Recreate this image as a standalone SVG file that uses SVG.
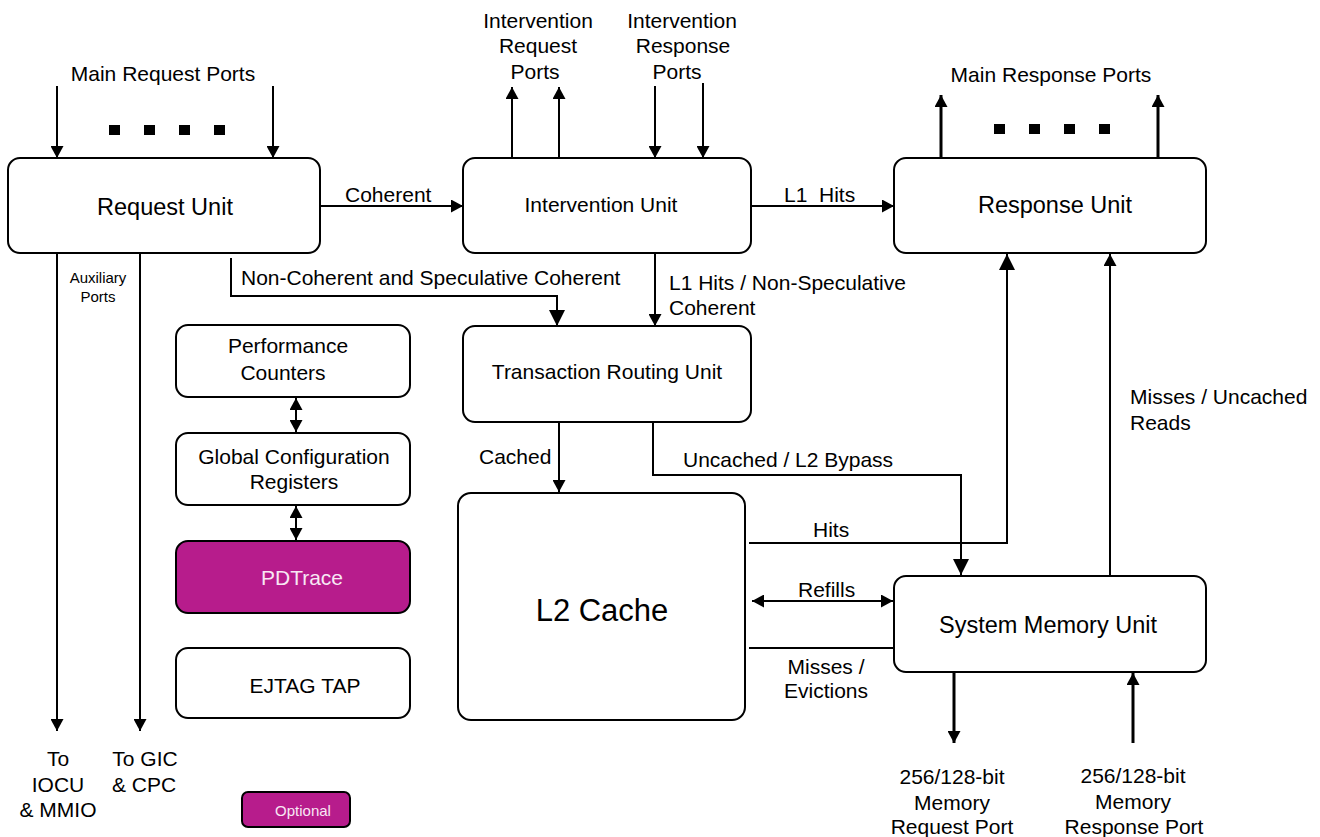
<svg xmlns="http://www.w3.org/2000/svg" width="1320" height="837" viewBox="0 0 1320 837">
<style>
text{font-family:"Liberation Sans",Arial,sans-serif;fill:#000}
.box{fill:#fff;stroke:#000;stroke-width:2}
.opt{fill:#B71C8C;stroke:#000;stroke-width:2}
.big{font-size:23.5px;text-anchor:middle}
.mid{font-size:21px;text-anchor:middle}
.lbl{font-size:21px}
.lc{font-size:21px;text-anchor:middle}
.sm{font-size:15px;text-anchor:middle}
.wt{fill:#F8E8F4}
.c{fill:none;stroke:#000;stroke-width:2}
.t{fill:none;stroke:#000;stroke-width:3}
</style>
<defs>
<marker id="a" viewBox="0 0 12 13" markerWidth="12" markerHeight="13" refX="12" refY="6.5" orient="auto-start-reverse" markerUnits="userSpaceOnUse"><path d="M0,0L12,6.5L0,13z" fill="#000"/></marker>
<marker id="b" viewBox="0 0 16 16" markerWidth="16" markerHeight="16" refX="16" refY="8" orient="auto-start-reverse" markerUnits="userSpaceOnUse"><path d="M0,0L16,8L0,16z" fill="#000"/></marker>
</defs>

<g id="connectors">
<line class="c" x1="57" y1="86" x2="57" y2="158" marker-end="url(#a)"/>
<line class="c" x1="273" y1="86" x2="273" y2="158" marker-end="url(#a)"/>
<line class="c" x1="320" y1="206" x2="463" y2="206" marker-end="url(#a)"/>
<line class="c" x1="512" y1="158" x2="512" y2="87" marker-end="url(#a)"/>
<line class="c" x1="559" y1="158" x2="559" y2="87" marker-end="url(#a)"/>
<line class="c" x1="655" y1="86" x2="655" y2="158" marker-end="url(#a)"/>
<line class="c" x1="703" y1="83" x2="703" y2="158" marker-end="url(#a)"/>
<line class="c" x1="751" y1="206" x2="894" y2="206" marker-end="url(#a)"/>
<line class="t" x1="941" y1="158" x2="941" y2="95" marker-end="url(#a)"/>
<line class="t" x1="1158" y1="158" x2="1158" y2="95" marker-end="url(#a)"/>
<line class="c" x1="57" y1="253" x2="57" y2="731" marker-end="url(#a)"/>
<line class="c" x1="140" y1="253" x2="140" y2="731" marker-end="url(#a)"/>
<polyline class="c" points="231,258 231,296 557,296 557,326" marker-end="url(#b)"/>
<line class="c" x1="655" y1="253" x2="655" y2="326" marker-end="url(#a)"/>
<line class="c" x1="559" y1="422" x2="559" y2="492" marker-end="url(#a)"/>
<polyline class="c" points="653,422 653,475 961,475 961,575" marker-end="url(#b)"/>
<polyline class="c" points="749,543 1007,543 1007,254" marker-end="url(#b)"/>
<line class="c" x1="1110" y1="576" x2="1110" y2="254" marker-end="url(#a)"/>
<line class="c" x1="752" y1="601" x2="893" y2="601" marker-start="url(#a)" marker-end="url(#a)"/>
<line class="c" x1="749" y1="648" x2="894" y2="648"/>
<line class="t" x1="954" y1="672" x2="954" y2="743" marker-end="url(#a)"/>
<line class="t" x1="1133" y1="743" x2="1133" y2="673" marker-end="url(#a)"/>
<line class="c" x1="296" y1="398" x2="296" y2="432" marker-start="url(#a)" marker-end="url(#a)"/>
<line class="c" x1="296" y1="506" x2="296" y2="540" marker-start="url(#a)" marker-end="url(#a)"/>
</g>

<g id="dots" fill="#000">
<rect x="109" y="125" width="11" height="10"/>
<rect x="144" y="125" width="11" height="10"/>
<rect x="179" y="125" width="11" height="10"/>
<rect x="214" y="125" width="11" height="10"/>
<rect x="994" y="124" width="11" height="10"/>
<rect x="1029" y="124" width="11" height="10"/>
<rect x="1064" y="124" width="11" height="10"/>
<rect x="1099" y="124" width="11" height="10"/>
</g>

<g id="request-unit">
<rect class="box" x="8" y="158" width="312" height="95" rx="12"/>
<text class="big" x="165" y="215">Request Unit</text>
</g>
<g id="intervention-unit">
<rect class="box" x="463" y="158" width="288" height="95" rx="12"/>
<text class="mid" x="601" y="212">Intervention Unit</text>
</g>
<g id="response-unit">
<rect class="box" x="894" y="158" width="312" height="95" rx="12"/>
<text class="big" x="1055" y="213">Response Unit</text>
</g>
<g id="transaction-routing-unit">
<rect class="box" x="463" y="326" width="288" height="96" rx="12"/>
<text class="mid" x="607" y="379">Transaction Routing Unit</text>
</g>
<g id="l2-cache">
<rect class="box" x="458" y="493" width="287" height="227" rx="13"/>
<text x="602" y="621" style="font-size:31px;text-anchor:middle">L2 Cache</text>
</g>
<g id="system-memory-unit">
<rect class="box" x="894" y="576" width="312" height="96" rx="12"/>
<text class="big" x="1048" y="633">System Memory Unit</text>
</g>
<g id="performance-counters">
<rect class="box" x="176" y="325" width="234" height="72" rx="12"/>
<text class="mid" x="288" y="353">Performance</text>
<text class="mid" x="283" y="380">Counters</text>
</g>
<g id="global-configuration-registers">
<rect class="box" x="176" y="433" width="234" height="72" rx="12"/>
<text class="mid" x="294" y="464">Global Configuration</text>
<text class="mid" x="294" y="489">Registers</text>
</g>
<g id="pdtrace">
<rect class="opt" x="176" y="541" width="234" height="72" rx="12"/>
<text class="mid wt" x="302" y="585">PDTrace</text>
</g>
<g id="ejtag-tap">
<rect class="box" x="176" y="648" width="234" height="70" rx="12"/>
<text class="mid" x="305" y="693">EJTAG TAP</text>
</g>
<g id="optional-legend">
<rect class="opt" x="242" y="792" width="108" height="35" rx="6"/>
<text class="sm wt" x="303" y="816">Optional</text>
</g>

<g id="labels">
<text class="lc" x="163" y="81">Main Request Ports</text>
<text class="lc" x="538" y="28">Intervention</text>
<text class="lc" x="538" y="53">Request</text>
<text class="lc" x="535" y="79">Ports</text>
<text class="lc" x="682" y="28">Intervention</text>
<text class="lc" x="683" y="53">Response</text>
<text class="lc" x="677" y="79">Ports</text>
<text class="lc" x="1051" y="82">Main Response Ports</text>
<text class="lbl" x="345" y="202">Coherent</text>
<text class="lbl" x="784" y="202" xml:space="preserve" style="white-space:pre">L1  Hits</text>
<text class="sm" x="98" y="283">Auxiliary</text>
<text class="sm" x="98" y="302">Ports</text>
<text class="lbl" x="241" y="285">Non-Coherent and Speculative Coherent</text>
<text class="lbl" x="669" y="290">L1 Hits / Non-Speculative</text>
<text class="lbl" x="669" y="315">Coherent</text>
<text class="lbl" x="1130" y="404">Misses / Uncached</text>
<text class="lbl" x="1130" y="430">Reads</text>
<text class="lbl" x="479" y="464">Cached</text>
<text class="lbl" x="683" y="467">Uncached / L2 Bypass</text>
<text class="lbl" x="813" y="537">Hits</text>
<text class="lbl" x="798" y="597">Refills</text>
<text class="lc" x="826" y="674">Misses /</text>
<text class="lc" x="826" y="698">Evictions</text>
<text class="lc" x="58" y="766">To</text>
<text class="lc" x="58" y="792">IOCU</text>
<text class="lc" x="58" y="817">&amp; MMIO</text>
<text class="lc" x="145" y="766">To GIC</text>
<text class="lc" x="144" y="792">&amp; CPC</text>
<text class="lc" x="952" y="784">256/128-bit</text>
<text class="lc" x="952" y="810">Memory</text>
<text class="lc" x="952" y="834">Request Port</text>
<text class="lc" x="1133" y="783">256/128-bit</text>
<text class="lc" x="1133" y="809">Memory</text>
<text class="lc" x="1134" y="834">Response Port</text>
</g>
</svg>
